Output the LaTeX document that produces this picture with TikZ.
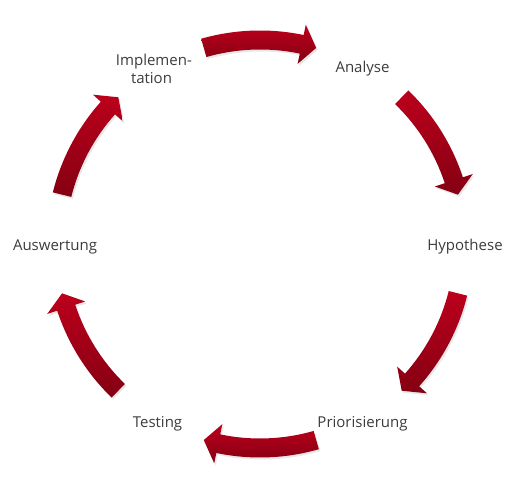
\documentclass[tikz,border=0pt]{standalone}
\usepackage{fontspec}
\setmainfont{Open Sans}
\usetikzlibrary{calc,shadows}
\definecolor{cycRedHi}{RGB}{188,0,28}
\definecolor{cycRedLo}{RGB}{132,0,18}
\definecolor{inklabel}{RGB}{60,60,60}

\begin{document}
\begin{tikzpicture}[x=1pt,y=1pt,
  lbl/.style={font=\fontsize{15}{18}\selectfont,text=inklabel,align=center,inner sep=1pt},
  cyc/.style={top color=cycRedHi,bottom color=cycRedLo,
              drop shadow={opacity=0.18,shadow xshift=1.5pt,shadow yshift=-2pt}}]
  \useasboundingbox (0,0) rectangle (512,486);
  \coordinate (c) at (260,242);
  \coordinate (t) at (260,239.5);
  % labels round the cycle
  \node[lbl] (ana) at ($(t)+(60:205)$) {Analyse};
  \node[lbl] (hyp) at ($(t)+(0:205)$) {Hypothese};
  \node[lbl] (pri) at ($(t)+(-60:205)$) {Priorisierung};
  \node[lbl] (tst) at ($(t)+(-120:205)$) {Testing};
  \node[lbl] (ausw) at ($(t)+(180:205)$) {Auswertung};
  \node[lbl] (impl) at ($(t)+(120:205)+(-6,0)$) {Implemen\rlap{-}\\tation};
  % curved arrows, clockwise
  \foreach \a in {90,30,-30,-90,-150,-210}{
    \pgfmathsetmacro\ta{\a+16}
    \pgfmathsetmacro\hb{\a-11.8}
    \pgfmathsetmacro\tp{\a-16}
    \shade[cyc] ($(c)+(\ta:213.5)$) arc[start angle=\ta,end angle=\hb,radius=213.5]
      -- ($(c)+(\hb:224)$) -- ($(c)+(\tp:204)$) -- ($(c)+(\hb:184)$)
      -- ($(c)+(\hb:194.5)$) arc[start angle=\hb,end angle=\ta,radius=194.5] -- cycle;
  }
\end{tikzpicture}
\end{document}
